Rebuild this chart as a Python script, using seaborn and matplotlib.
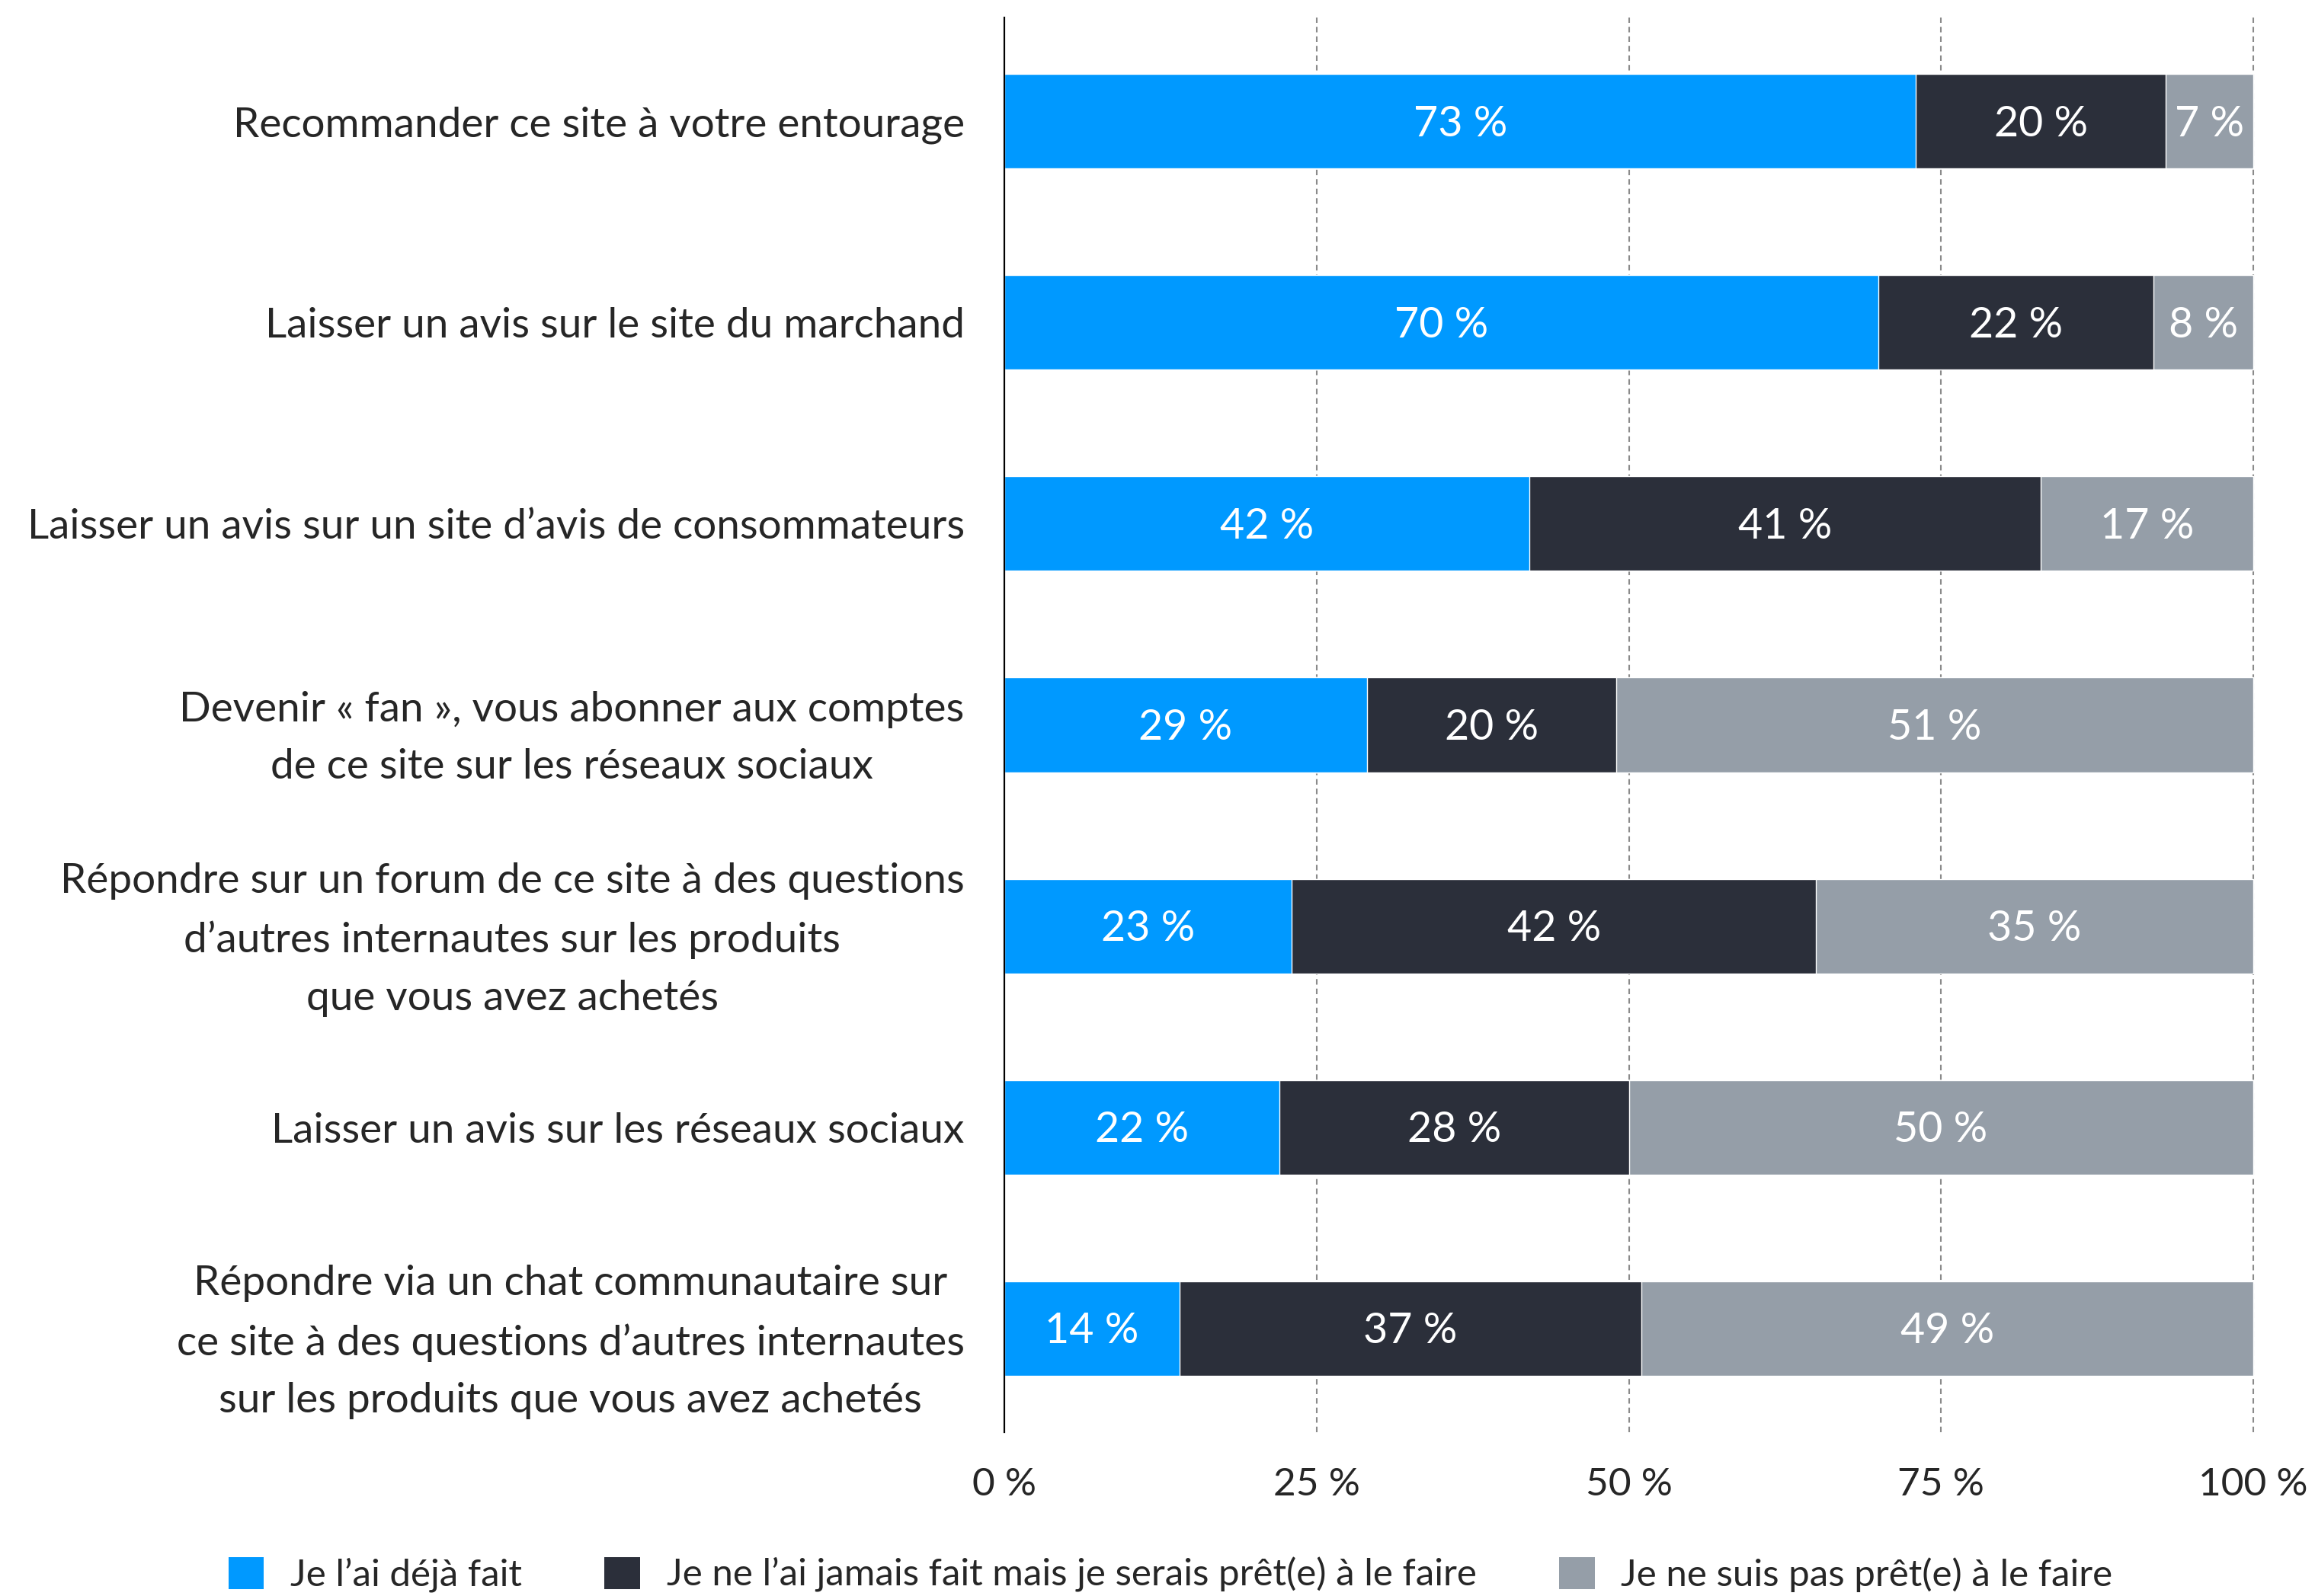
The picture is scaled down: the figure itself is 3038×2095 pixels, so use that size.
import numpy as np
import pandas as pd
import matplotlib
matplotlib.use("Agg")
import matplotlib.pyplot as plt
import seaborn as sns
from matplotlib.patches import Patch

# Survey answers, one row per action
categories = [
    "Recommander ce site à votre entourage",
    "Laisser un avis sur le site du marchand",
    "Laisser un avis sur un site d’avis de consommateurs",
    "Devenir « fan », vous abonner aux comptes\nde ce site sur les réseaux sociaux",
    "Répondre sur un forum de ce site à des questions\nd’autres internautes sur les produits\nque vous avez achetés",
    "Laisser un avis sur les réseaux sociaux",
    "Répondre via un chat communautaire sur\nce site à des questions d’autres internautes\nsur les produits que vous avez achetés",
]
deja_fait = [73, 70, 42, 29, 23, 22, 14]
pret = [20, 22, 41, 20, 42, 28, 37]
pas_pret = [7, 8, 17, 51, 35, 50, 49]

series_names = [
    "Je l’ai déjà fait",
    "Je ne l’ai jamais fait mais je serais prêt(e) à le faire",
    "Je ne suis pas prêt(e) à le faire",
]
colors = ["#0099FF", "#2B2F3A", "#959EA8"]
ticks = [0, 25, 50, 75, 100]
tick_labels = ["0 %", "25 %", "50 %", "75 %", "100 %"]

sns.set_theme(style="white")
plt.rcParams["font.family"] = ["Lato", "DejaVu Sans"]
FS_CAT = 39.5
FS_VAL = 40
FS_TICK = 37
FS_LEG = 35.5

df = pd.DataFrame({
    "cat": categories,
    "a": deja_fait,
    "b": pret,
    "c": pas_pret,
})
df["ab"] = df["a"] + df["b"]
df["abc"] = df["ab"] + df["c"]

fig = plt.figure(figsize=(30.38, 20.95), dpi=100)
ax = fig.add_axes([0.434, 0.1026, 0.5403, 0.8864])

bar_w = 0.47
# stacked bars: draw cumulative totals from the back to the front
sns.barplot(data=df, x="abc", y="cat", orient="h", color=colors[2],
            width=bar_w, saturation=1, ax=ax, zorder=3)
sns.barplot(data=df, x="ab", y="cat", orient="h", color=colors[1],
            width=bar_w, saturation=1, ax=ax, zorder=3)
sns.barplot(data=df, x="a", y="cat", orient="h", color=colors[0],
            width=bar_w, saturation=1, ax=ax, zorder=3)

# value labels centred in each segment
for i, row in df.iterrows():
    starts = [0, row["a"], row["ab"]]
    vals = [row["a"], row["b"], row["c"]]
    for s, v in zip(starts, vals):
        ax.text(s + v / 2, i + 0.015, f"{v} %", ha="center", va="center",
                color="white", fontsize=FS_VAL, zorder=4)

ax.set_xlim(0, 100.2)
ax.set_ylim(len(categories) - 1 + 0.515, -0.515)
ax.set_xlabel("")
ax.set_ylabel("")
ax.set_xticks(ticks)
ax.set_xticklabels(tick_labels, fontsize=FS_TICK)
ax.set_yticks(range(len(categories)))
ax.set_yticklabels(categories, fontsize=FS_CAT, multialignment="center",
                   linespacing=1.66)
ax.tick_params(axis="x", length=0, pad=33)
ax.tick_params(axis="y", length=0, pad=38)

for x in ticks[1:]:
    ax.axvline(x, color="#8A8A8A", lw=1.5, ls=(0, (3.5, 2.5)), zorder=1)

for side in ["top", "right", "bottom"]:
    ax.spines[side].set_visible(False)
ax.spines["left"].set_color("black")
ax.spines["left"].set_linewidth(1.6)
ax.spines["left"].set_zorder(5)

handles = [Patch(facecolor=c, edgecolor="none") for c in colors]
fig.legend(handles, series_names, loc="center left",
           bbox_to_anchor=(0.084, 0.0134), ncol=3, frameon=False,
           fontsize=FS_LEG, handlelength=0.95, handleheight=0.95,
           handletextpad=0.7, columnspacing=2.2)

fig.savefig("out.png", dpi=100, facecolor="white")
